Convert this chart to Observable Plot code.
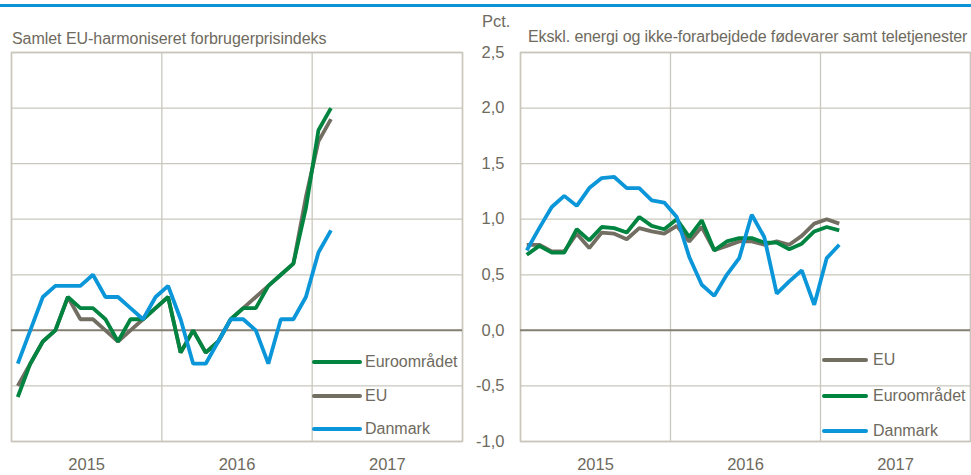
<!DOCTYPE html>
<html>
<head>
<meta charset="utf-8">
<script src="https://cdn.jsdelivr.net/npm/d3@7"></script>
<script src="https://cdn.jsdelivr.net/npm/@observablehq/plot@0.6"></script>
<style>
  html, body { margin: 0; padding: 0; background: #fff; }
  #root { position: relative; width: 971px; height: 475px; overflow: hidden; background: #fff;
          font-family: "Liberation Sans", Arial, sans-serif; color: #6e6a5e; }
  .abs { position: absolute; white-space: nowrap; }
  .topline { position: absolute; left: 0; top: 4px; width: 971px; height: 3px; background: #0a93d5; }
</style>
</head>
<body>
<div id="root">
  <div class="topline"></div>
</div>
<script>
// ---------- data ----------
const months = ["2015-01","2015-02","2015-03","2015-04","2015-05","2015-06","2015-07","2015-08","2015-09","2015-10","2015-11","2015-12",
                "2016-01","2016-02","2016-03","2016-04","2016-05","2016-06","2016-07","2016-08","2016-09","2016-10","2016-11","2016-12",
                "2017-01","2017-02"];
const years = ["2015", "2016", "2017"];
const yTicks = [-1, -0.5, 0, 0.5, 1, 1.5, 2, 2.5];

// Left panel: Samlet EU-harmoniseret forbrugerprisindeks
const hicpEuro    = [-0.6,-0.3,-0.1,0.0,0.3,0.2,0.2,0.1,-0.1,0.1,0.1,0.2, 0.3,-0.2,0.0,-0.2,-0.1,0.1,0.2,0.2,0.4,0.5,0.6,1.1, 1.8,2.0];
const hicpEU      = [-0.5,-0.3,-0.1,0.0,0.3,0.1,0.1,0.0,-0.1,0.0,0.1,0.2, 0.3,-0.2,0.0,-0.2,-0.1,0.1,0.2,0.3,0.4,0.5,0.6,1.2, 1.7,1.9];
const hicpDanmark = [-0.3,0.0,0.3,0.4,0.4,0.4,0.5,0.3,0.3,0.2,0.1,0.3, 0.4,0.1,-0.3,-0.3,-0.1,0.1,0.1,0.0,-0.3,0.1,0.1,0.3, 0.7,0.9];

// Right panel: Ekskl. energi og ikke-forarbejdede fødevarer samt teletjenester
const coreEU      = [0.77,0.77,0.71,0.71,0.87,0.74,0.88,0.87,0.82,0.92,0.89,0.87, 0.94,0.80,0.93,0.72,0.76,0.80,0.80,0.77,0.80,0.77,0.85,0.96, 1.00,0.96];
const coreEuro    = [0.68,0.76,0.70,0.70,0.91,0.81,0.93,0.92,0.88,1.02,0.94,0.91, 1.00,0.84,0.99,0.72,0.80,0.83,0.83,0.79,0.79,0.73,0.78,0.89, 0.93,0.90];
const coreDanmark = [0.72,0.92,1.11,1.21,1.12,1.28,1.37,1.38,1.28,1.28,1.17,1.15, 1.02,0.66,0.41,0.31,0.50,0.65,1.04,0.84,0.33,0.44,0.54,0.23, 0.65,0.77];

const titleLeft  = "Samlet EU-harmoniseret forbrugerprisindeks";
const titleRight = "Ekskl. energi og ikke-forarbejdede fødevarer samt teletjenester";
const unitLabel  = "Pct.";

// ---------- styles ----------
const C = { eu: "#736e62", euro: "#00843f", dk: "#0a96d8", grid: "#c9c7bd", zero: "#847f72", text: "#6e6a5e" };
const FONT = '"Liberation Sans", Arial, sans-serif';

const monthIndex = m => { const [y, mo] = m.split("-").map(Number); return (y - +years[0]) * 12 + (mo - 1); };
const rows = arr => months.map((m, i) => ({ x: monthIndex(m), y: arr[i] }));
const yearCenters = years.map((y, i) => i * 12 + 5.5);
const yearBounds = [...years.map((y, i) => i * 12 - 0.5), years.length * 12 - 0.5];
const fmt = d => d.toFixed(1).replace(".", ",");

function panel({ width, marginLeft, marginRight, showY, series }) {
  return Plot.plot({
    width, height: 475,
    marginTop: 52, marginBottom: 34, marginLeft, marginRight,
    style: { fontFamily: FONT, fontSize: "16.5px", color: C.text, background: "transparent", overflow: "visible" },
    x: { domain: [-0.5, years.length * 12 - 0.5], ticks: yearCenters, tickFormat: d => years[Math.round((d - 5.5) / 12)],
         tickSize: 0, tickPadding: 17, label: null },
    y: { domain: [-1, 2.5], ticks: yTicks, tickFormat: fmt, tickSize: 0, tickPadding: 16, label: null,
         axis: showY ? "left" : null },
    marks: [
      Plot.ruleY(yTicks.filter(d => d !== 0), { stroke: C.grid, strokeWidth: 1.3 }),
      Plot.ruleX(yearBounds, { stroke: C.grid, strokeWidth: 1.3 }),
      Plot.frame({ stroke: C.grid, strokeWidth: 1.5 }),
      Plot.ruleY([0], { stroke: C.zero, strokeWidth: 2 }),
      ...series.map(s => Plot.line(rows(s.values), { x: "x", y: "y", stroke: s.color, strokeWidth: 3.8,
                                                     strokeLinejoin: "miter", strokeLinecap: "butt" }))
    ]
  });
}

const root = document.getElementById("root");

const left = panel({ width: 470, marginLeft: 11, marginRight: 8, showY: false,
  series: [ { values: hicpEU, color: C.eu }, { values: hicpEuro, color: C.euro }, { values: hicpDanmark, color: C.dk } ] });
left.style.position = "absolute"; left.style.left = "0px"; left.style.top = "0px";
root.appendChild(left);

const right = panel({ width: 511, marginLeft: 60, marginRight: 1, showY: true,
  series: [ { values: coreEU, color: C.eu }, { values: coreEuro, color: C.euro }, { values: coreDanmark, color: C.dk } ] });
right.style.position = "absolute"; right.style.left = "460px"; right.style.top = "0px";
root.appendChild(right);

function addText(txt, x, y, size, ls) {
  const d = document.createElement("div");
  d.className = "abs";
  d.textContent = txt; d.style.left = x + "px"; d.style.top = y + "px";
  d.style.fontSize = size + "px"; d.style.lineHeight = "20px";
  if (ls) d.style.letterSpacing = ls + "px";
  root.appendChild(d);
}
addText(titleLeft, 12, 29, 16, -0.05);
addText(titleRight, 528, 27, 16, -0.1);
addText(unitLabel, 482, 11, 16.5, 0);

function legend(items, lineX, lineW, textX, ys) {
  items.forEach((it, i) => {
    const ln = document.createElement("div");
    ln.className = "abs";
    ln.style.left = lineX + "px"; ln.style.top = (ys[i] - 2) + "px";
    ln.style.width = lineW + "px"; ln.style.height = "4px"; ln.style.borderRadius = "2px";
    ln.style.background = it.color;
    root.appendChild(ln);
    const t = document.createElement("div");
    t.className = "abs";
    t.style.left = textX + "px"; t.style.top = (ys[i] - 11) + "px";
    t.style.fontSize = "16px"; t.style.lineHeight = "22px";
    t.textContent = it.label;
    root.appendChild(t);
  });
}
legend([{ label: "Euroområdet", color: C.euro }, { label: "EU", color: C.eu }, { label: "Danmark", color: C.dk }],
       312, 50, 365, [362, 396, 429]);
legend([{ label: "EU", color: C.eu }, { label: "Euroområdet", color: C.euro }, { label: "Danmark", color: C.dk }],
       822, 46, 873, [360, 396, 431]);
</script>
</body>
</html>
